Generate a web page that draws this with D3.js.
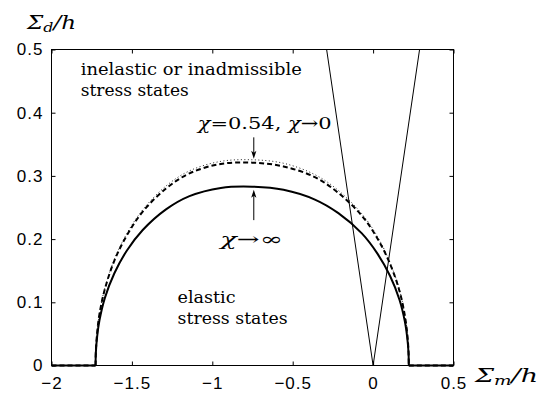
<!DOCTYPE html>
<html>
<head>
<meta charset="utf-8">
<script src="https://cdn.jsdelivr.net/npm/d3@7"></script>
<style>
  body { margin: 0; background: #fff; }
  svg { display: block; }
</style>
</head>
<body>
<svg id="chart" width="544" height="394"></svg>
<script>
// Mean stress (normalised) sampled along the yield surfaces
const sigmaM = [-2, -1.726, -1.724, -1.716, -1.702, -1.668, -1.609, -1.531, -1.434, -1.288, -1.142, -0.947, -0.752, -0.557, -0.362, -0.216, -0.070, 0.027, 0.105, 0.164, 0.198, 0.212, 0.220, 0.222, 0.5];
// Deviatoric stress for chi -> infinity
const solidD = [0, 0, 0.021, 0.046, 0.071, 0.107, 0.146, 0.182, 0.214, 0.247, 0.268, 0.281, 0.283, 0.278, 0.2625, 0.241, 0.209, 0.177, 0.142, 0.104, 0.069, 0.045, 0.021, 0, 0];
// Deviatoric stress for chi = 0.54
const chi054D = [0, 0, 0.024, 0.052, 0.081, 0.121, 0.166, 0.206, 0.243, 0.280, 0.304, 0.319, 0.321, 0.315, 0.298, 0.273, 0.237, 0.201, 0.161, 0.118, 0.078, 0.051, 0.024, 0, 0];
// Deviatoric stress for chi -> 0
const chi0D = [0, 0, 0.024, 0.053, 0.082, 0.123, 0.168, 0.209, 0.246, 0.284, 0.308, 0.323, 0.3255, 0.320, 0.302, 0.277, 0.240, 0.204, 0.163, 0.120, 0.079, 0.052, 0.024, 0, 0];
// Cone lines through the origin
const coneM = [-0.289, 0, 0.289];
const coneD = [0.5, 0, 0.5];

const xTickValues = [-2, -1.5, -1, -0.5, 0, 0.5];
const xTickLabels = ["\u22122", "\u22121.5", "\u22121", "\u22120.5", "0", "0.5"];
const yTickValues = [0, 0.1, 0.2, 0.3, 0.4, 0.5];
const yTickLabels = ["0", "0.1", "0.2", "0.3", "0.4", "0.5"];

const svg = d3.select("#chart");
const x = d3.scaleLinear().domain([-2, 0.5]).range([51.5, 453.5]);
const y = d3.scaleLinear().domain([0, 0.5]).range([365.5, 49.5]);

const serif = "'DejaVu Serif', serif";
const sans = "'Liberation Sans', Arial, sans-serif";

// clip region: plot box, slightly extended below so the flat parts on the axis keep full width
svg.append("defs").append("clipPath").attr("id", "plot")
  .append("rect")
  .attr("x", x(-2)).attr("y", y(0.5))
  .attr("width", x(0.5) - x(-2)).attr("height", y(0) - y(0.5) + 1.5);

// axes with inward ticks on all four sides
const fmtX = (d) => xTickLabels[xTickValues.indexOf(d)];
const fmtY = (d) => yTickLabels[yTickValues.indexOf(d)];

const gx = svg.append("g").attr("transform", `translate(0,${y(0)})`)
  .call(d3.axisBottom(x).tickValues(xTickValues).tickFormat(fmtX).tickSize(-4).tickPadding(11));
const gy = svg.append("g").attr("transform", `translate(${x(-2)},0)`)
  .call(d3.axisLeft(y).tickValues(yTickValues).tickFormat(fmtY).tickSize(-4).tickPadding(8));
svg.append("g").attr("transform", `translate(0,${y(0.5)})`)
  .call(d3.axisTop(x).tickValues(xTickValues).tickFormat("").tickSize(-4));
svg.append("g").attr("transform", `translate(${x(0.5)},0)`)
  .call(d3.axisRight(y).tickValues(yTickValues).tickFormat("").tickSize(-4));

svg.selectAll(".domain").remove();
svg.selectAll(".tick line").attr("stroke", "#000").attr("stroke-width", 1);
[gx, gy].forEach(g => g.selectAll("text")
  .attr("font-family", sans).attr("font-size", 17).attr("fill", "#000")
  .attr("letter-spacing", 1));

svg.append("rect")
  .attr("x", x(-2)).attr("y", y(0.5))
  .attr("width", x(0.5) - x(-2)).attr("height", y(0) - y(0.5))
  .attr("fill", "none").attr("stroke", "#000").attr("stroke-width", 1);

const plot = svg.append("g").attr("clip-path", "url(#plot)");

// cone
plot.append("path")
  .attr("d", d3.line().x((d, i) => x(coneM[i])).y(d => y(d))(coneD))
  .attr("fill", "none").attr("stroke", "#000").attr("stroke-width", 1);

// each surface: straight flat parts along the axis, smooth arc between the two roots
const n = sigmaM.length;
const pts = (vals) => vals.map((d, i) => [x(sigmaM[i]), y(d)]);
const arcLine = d3.line().curve(d3.curveCatmullRom.alpha(0.5));
const flatLine = d3.line();
function surface(vals) {
  const p = pts(vals);
  return flatLine(p.slice(0, 2)) + arcLine(p.slice(1, n - 1)) + flatLine(p.slice(n - 2));
}

plot.append("path").attr("d", surface(chi0D))
  .attr("fill", "none").attr("stroke", "#222").attr("stroke-width", 1)
  .attr("stroke-dasharray", "1,2.5");
plot.append("path").attr("d", surface(chi054D))
  .attr("fill", "none").attr("stroke", "#000").attr("stroke-width", 2)
  .attr("stroke-dasharray", "5,3");
plot.append("path").attr("d", surface(solidD))
  .attr("fill", "none").attr("stroke", "#000").attr("stroke-width", 2);

// annotation arrows
function arrow(m, d0, d1) {
  const px = x(m), y0 = y(d0), y1 = y(d1);
  const dir = Math.sign(y1 - y0);
  svg.append("line").attr("x1", px).attr("x2", px).attr("y1", y0).attr("y2", y1 - dir * 4)
    .attr("stroke", "#000").attr("stroke-width", 1);
  svg.append("path")
    .attr("d", `M${px},${y1} L${px - 2.6},${y1 - dir * 8} L${px},${y1 - dir * 6} L${px + 2.6},${y1 - dir * 8} Z`)
    .attr("fill", "#000");
}
arrow(-0.742, 0.361, 0.327);
arrow(-0.742, 0.230, 0.278);

// text labels
function label(m, d, width, parts, size) {
  const t = svg.append("text")
    .attr("x", x(m)).attr("y", y(d))
    .attr("font-family", serif).attr("font-size", size).attr("fill", "#000")
    .attr("textLength", width).attr("lengthAdjust", "spacingAndGlyphs");
  parts.forEach(p => {
    const s = t.append("tspan").text(p.t);
    if (p.i) s.attr("font-style", "italic");
  });
  return t;
}

label(-1.818, 0.459, 221, [{ t: "inelastic or inadmissible" }], 16);
label(-1.818, 0.427, 108, [{ t: "stress states" }], 16);
label(-1.216, 0.0985, 58, [{ t: "elastic" }], 16);
label(-1.216, 0.066, 110, [{ t: "stress states" }], 16);

label(-1.091, 0.375, 134, [{ t: "\u03C7", i: true }, { t: "=0.54, " }, { t: "\u03C7", i: true }, { t: "\u21920" }], 17);
label(-0.950, 0.190, 62, [{ t: "\u03C7", i: true }, { t: "\u2192\u221E" }], 17);

// axis titles
const yt = svg.append("text").attr("x", 27).attr("y", 29)
  .attr("font-family", serif).attr("font-size", 19).attr("font-style", "italic")
  .attr("textLength", 49).attr("lengthAdjust", "spacingAndGlyphs");
yt.append("tspan").text("\u03A3");
yt.append("tspan").text("d").attr("font-size", 13).attr("dy", 3);
yt.append("tspan").text("/h").attr("dy", -3);

const xt = svg.append("text").attr("x", 475).attr("y", 382)
  .attr("font-family", serif).attr("font-size", 19).attr("font-style", "italic")
  .attr("textLength", 63).attr("lengthAdjust", "spacingAndGlyphs");
xt.append("tspan").text("\u03A3");
xt.append("tspan").text("m").attr("font-size", 13).attr("dy", 3);
xt.append("tspan").text("/h").attr("dy", -3);
</script>
</body>
</html>
